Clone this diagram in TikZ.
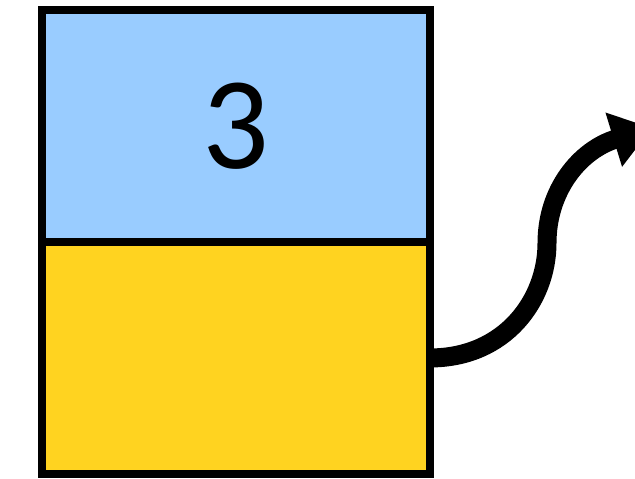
\documentclass[tikz,border=0pt]{standalone}
\usepackage{fontspec}
\setmainfont{Carlito}
\usetikzlibrary{positioning,arrows.meta}
\definecolor{cellblue}{RGB}{153,204,255}
\definecolor{cellyellow}{RGB}{255,211,32}

\begin{document}
\begin{tikzpicture}[
        x=0.02cm, y=-0.02cm,
        node distance=0pt,
        cell/.style={rectangle, draw, fill=#1, line width=0.16cm, outer sep=0pt,
            minimum width=7.76cm, minimum height=4.64cm, inner sep=0pt,
            align=center, font=\fontsize{75}{80}\selectfont}
    ]
        \useasboundingbox (0,0) rectangle (635,479);
        % the two cells
        \node[cell=cellblue] (value) at (236,126) {3};
        \node[cell=cellyellow, below=of value] (next) {};

        % pointer
        \draw[line width=0.38cm, -{Triangle[width=1.08cm,length=0.8cm]}] (next.east)
            .. controls (505,358) and (547,300) .. (547,243)
            .. controls (547,190) and (580,150) .. (652,128);
\end{tikzpicture}
\end{document}
